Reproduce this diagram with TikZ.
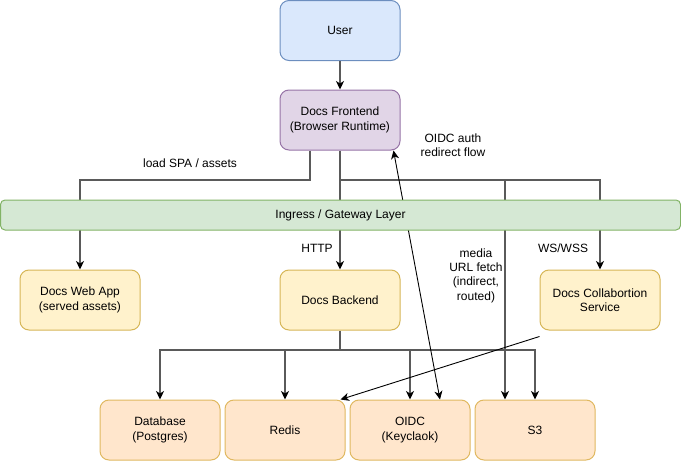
\documentclass[tikz,border=0pt]{standalone}
\usepackage{fontspec}
\setmainfont{Liberation Sans}
\usetikzlibrary{arrows.meta,calc}
\definecolor{bluef}{HTML}{DAE8FC}\definecolor{blues}{HTML}{6C8EBF}
\definecolor{purf}{HTML}{E1D5E7}\definecolor{purs}{HTML}{9673A6}
\definecolor{grnf}{HTML}{D5E8D4}\definecolor{grns}{HTML}{82B366}
\definecolor{yelf}{HTML}{FFF2CC}\definecolor{yels}{HTML}{D6B656}
\definecolor{orf}{HTML}{FFE6CC}\definecolor{ors}{HTML}{E0B860}
\definecolor{edgegray}{HTML}{5A5A5A}
\tikzset{
  mytip/.tip={Stealth[length=8.5pt,width=8pt,inset=2.5pt,fill=black,color=black]},
  box/.style={draw, line width=1pt, rounded corners=9pt, minimum width=120pt, minimum height=60pt,
    inner sep=0pt, align=center, font=\fontsize{12}{14.4}\selectfont},
  userbox/.style={box, fill=bluef, draw=blues},
  febox/.style={box, fill=purf, draw=purs},
  gwbox/.style={box, fill=grnf, draw=grns, rounded corners=4.5pt, minimum width=680pt, minimum height=30pt},
  svcbox/.style={box, fill=yelf, draw=yels},
  infbox/.style={box, fill=orf, draw=ors},
  gedge/.style={draw=edgegray, line width=1.8pt, -mytip},
  gline/.style={draw=edgegray, line width=1.8pt},
  bedge/.style={draw=black, line width=0.9pt, -mytip},
  bbedge/.style={draw=black, line width=0.9pt, mytip-mytip},
  lbl/.style={align=center, inner sep=0pt, font=\fontsize{12}{14.4}\selectfont},
}
\begin{document}
\begin{tikzpicture}[x=1pt,y=-1pt]
\useasboundingbox (0,0) rectangle (681,461);
% nodes (positions)
\node[userbox] (user) at (340,30.5) {User};
\node[febox] (fe) at (340,120) {Docs Frontend\\(Browser Runtime)};
\node[svcbox] (web) at (80,300) {Docs Web App\\(served assets)};
\node[svcbox] (be) at (340,300) {Docs Backend};
\node[svcbox] (co) at (600,300) {Docs Collabortion\\Service};
\node[infbox] (db) at (160,430) {Database\\(Postgres)};
\node[infbox] (rd) at (285,430) {Redis};
\node[infbox] (oi) at (410,430) {OIDC\\(Keyclaok)};
\node[infbox] (s3) at (535,430) {S3};
% coordinates
\coordinate (feL) at ([xshift=-30pt]fe.south);
\coordinate (j1) at (310,180);
\coordinate (j2) at (80,180);
\coordinate (j3) at (340,180);
\coordinate (bj) at (340,350);
% edges
\draw[gedge] (user) -- (fe);
\draw[gedge] (feL) -- (j1) -- (j2) -- (web.north);
\draw[gedge] (fe.south) -- (be.north);
\draw[gedge] (j3) -- (co.north |- j3) -- (co.north);
\draw[gedge] (j3) -- (505,180) -- (s3.north -| 505,0);
\draw[gline] (be.south) -- (bj);
\draw[gedge] (bj) -- (db.north |- bj) -- (db.north);
\draw[gedge] (rd.north |- bj) -- (rd.north);
\draw[gedge] (bj) -- (oi.north |- bj) -- (oi.north);
\draw[gedge] (bj) -- (s3.north |- bj) -- (s3.north);
\draw[bbedge] ([xshift=30pt]oi.north) -- ([xshift=-7pt]fe.south east);
\draw[bedge] ([yshift=-6pt]co.south west) -- ([xshift=-5pt]rd.north east);
% gateway on top
\node[gwbox] (gw) at (340.5,215) {Ingress / Gateway Layer};
% labels
\node[lbl] (l1) at (190,163) {load SPA / assets};
\node[lbl] (l2) at (453,145) {OIDC auth\\redirect flow};
\node[lbl] (l3) at (317,248) {HTTP};
\node[lbl] (l4) at (563,248) {WS/WSS};
\node[lbl] (l5) at (476,275.5) {media\\URL fetch\\(indirect,\\routed)};
\end{tikzpicture}
\end{document}
